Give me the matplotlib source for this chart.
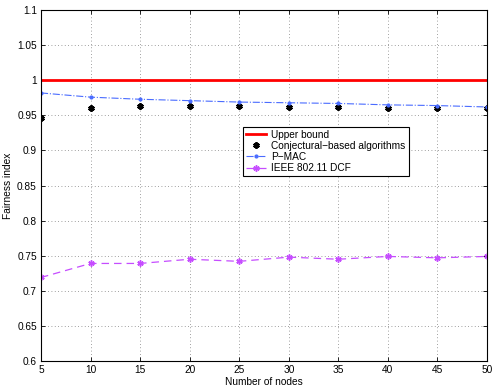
import matplotlib
matplotlib.use("Agg")
import matplotlib.pyplot as plt

nodes = [5, 10, 15, 20, 25, 30, 35, 40, 45, 50]
upper = [1.0] * len(nodes)
conjectural = [0.946, 0.960, 0.963, 0.964, 0.963, 0.962, 0.962, 0.961, 0.960, 0.960]
pmac = [0.982, 0.976, 0.973, 0.971, 0.969, 0.968, 0.967, 0.965, 0.964, 0.962]
dcf = [0.719, 0.739, 0.739, 0.745, 0.742, 0.748, 0.745, 0.749, 0.747, 0.749]

plt.rcParams['font.family'] = ['Liberation Sans', 'DejaVu Sans']
plt.rcParams['font.size'] = 7.3

fig = plt.figure(figsize=(4.98, 3.9), dpi=100)
ax = fig.add_axes([0.0823, 0.0744, 0.8957, 0.8996])

ax.plot(nodes, upper, color='red', linewidth=2, label='Upper bound')
ax.plot(nodes, conjectural, linestyle='none', marker=(6, 2, 0), color='black',
        markersize=4.5, markeredgewidth=1.6, label='Conjectural\u2212based algorithms')
ax.plot(nodes, pmac, linestyle='-.', color='#4a6cff', linewidth=0.8, marker='.',
        markersize=4, label='P\u2212MAC')
ax.plot(nodes, dcf, linestyle=(0, (6, 4)), color='#c64dff', linewidth=0.9,
        marker=(6, 2, 0), markersize=4.5, markeredgewidth=1.1, label='IEEE 802.11 DCF')

ax.set_xlim(5, 50)
ax.set_ylim(0.6, 1.1)
ax.set_xticks(nodes)
ax.set_yticks([0.6, 0.65, 0.7, 0.75, 0.8, 0.85, 0.9, 0.95, 1.0, 1.05, 1.1])
ax.set_yticklabels(['0.6', '0.65', '0.7', '0.75', '0.8', '0.85', '0.9', '0.95', '1', '1.05', '1.1'])
ax.tick_params(direction='in', top=True, right=True, length=3, width=0.6, pad=3)
ax.grid(True, linestyle=(0, (1, 3)), color='#808080', linewidth=0.6)
for s in ax.spines.values():
    s.set_linewidth(0.8)

ax.set_xlabel('Number of nodes', labelpad=1)
ax.set_ylabel('Fairness index', labelpad=3)

leg = ax.legend(loc='upper left', bbox_to_anchor=(0.453, 0.667), fancybox=False,
                framealpha=1, edgecolor='black', borderpad=0.3, labelspacing=0.1,
                handlelength=2.0, handletextpad=0.5, borderaxespad=0)
leg.get_frame().set_linewidth(0.8)

fig.savefig('out.png', dpi=100)
